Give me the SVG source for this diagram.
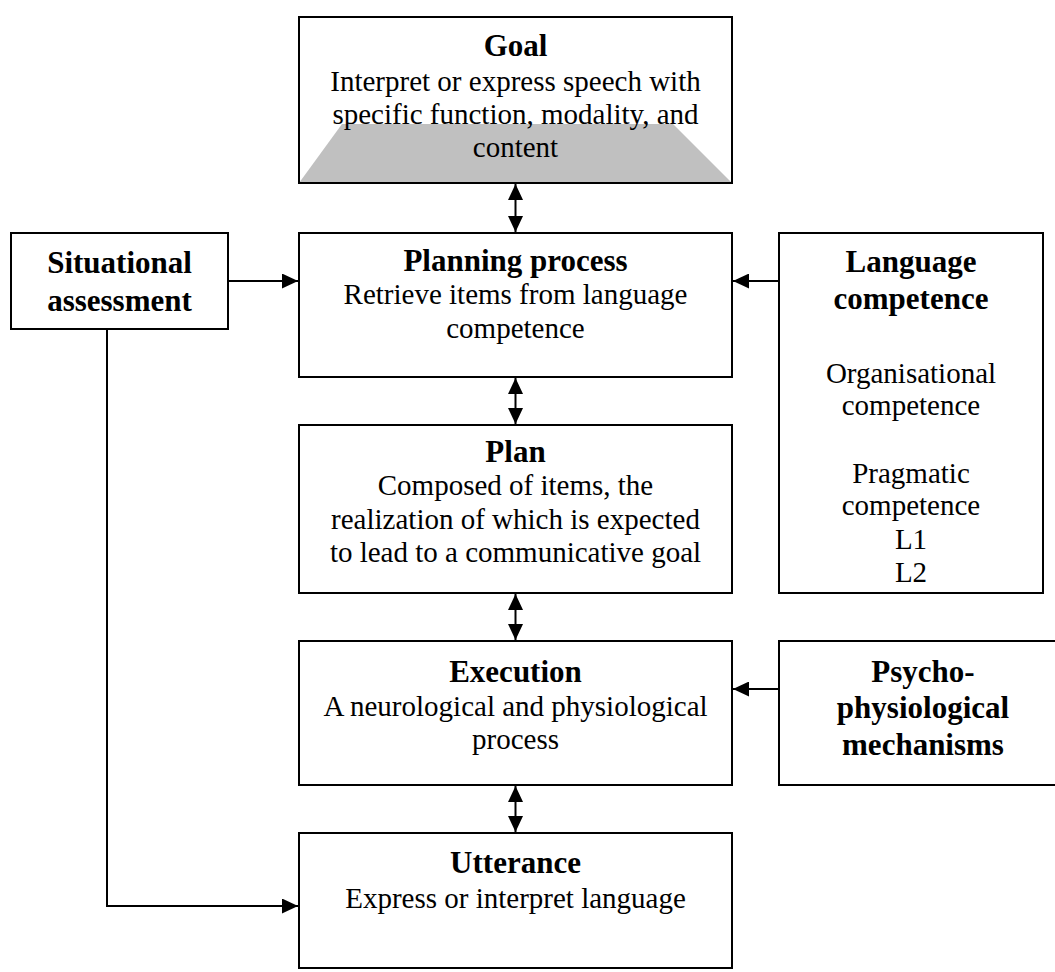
<svg xmlns="http://www.w3.org/2000/svg" width="1055" height="972" viewBox="0 0 1055 972">
  <style>
    .box { fill: #ffffff; stroke: #000000; stroke-width: 2; }
    .title { font-family: "Liberation Serif", "Times New Roman", serif; font-weight: bold; font-size: 31px; fill: #000; text-anchor: middle; }
    .body { font-family: "Liberation Serif", "Times New Roman", serif; font-size: 29px; fill: #000; text-anchor: middle; }
    .link { fill: none; stroke: #000000; stroke-width: 2; }
  </style>
  <defs>
    <marker id="head" viewBox="0 0 16 15" refX="16" refY="7.5" markerWidth="16" markerHeight="15" markerUnits="userSpaceOnUse" orient="auto-start-reverse">
      <path d="M0,0 L16,7.5 L0,15 Z" fill="#000"/>
    </marker>
  </defs>

  <rect width="1055" height="972" fill="#ffffff"/>

  <g id="goal">
    <rect class="box" x="299" y="17" width="433" height="166"/>
    <polygon points="342,124 673,124 732,183 299,183" fill="#c0c0c0"/>
    <rect x="299" y="17" width="433" height="166" fill="none" stroke="#000" stroke-width="2"/>
    <text class="title" x="515.5" y="56">Goal</text>
    <text class="body" x="515.5" y="91">Interpret or express speech with</text>
    <text class="body" x="515.5" y="124">specific function, modality, and</text>
    <text class="body" x="515.5" y="157">content</text>
  </g>

  <g id="situational">
    <rect class="box" x="11" y="233" width="217" height="96"/>
    <text class="title" x="119.5" y="273">Situational</text>
    <text class="title" x="119.5" y="311">assessment</text>
  </g>

  <g id="planning">
    <rect class="box" x="299" y="233" width="433" height="144"/>
    <text class="title" x="515.5" y="271">Planning process</text>
    <text class="body" x="515.5" y="304">Retrieve items from language</text>
    <text class="body" x="515.5" y="338">competence</text>
  </g>

  <g id="language">
    <rect class="box" x="779" y="233" width="264" height="360"/>
    <text class="title" x="911" y="272">Language</text>
    <text class="title" x="911" y="309">competence</text>
    <text class="body" x="911" y="383">Organisational</text>
    <text class="body" x="911" y="415">competence</text>
    <text class="body" x="911" y="483">Pragmatic</text>
    <text class="body" x="911" y="515">competence</text>
    <text class="body" x="911" y="549">L1</text>
    <text class="body" x="911" y="582">L2</text>
  </g>

  <g id="plan">
    <rect class="box" x="299" y="425" width="433" height="168"/>
    <text class="title" x="515.5" y="462">Plan</text>
    <text class="body" x="515.5" y="495">Composed of items, the</text>
    <text class="body" x="515.5" y="529">realization of which is expected</text>
    <text class="body" x="515.5" y="562">to lead to a communicative goal</text>
  </g>

  <g id="execution">
    <rect class="box" x="299" y="641" width="433" height="144"/>
    <text class="title" x="515.5" y="682">Execution</text>
    <text class="body" x="515.5" y="716">A neurological and physiological</text>
    <text class="body" x="515.5" y="749">process</text>
  </g>

  <g id="psycho">
    <rect class="box" x="779" y="641" width="290" height="144"/>
    <text class="title" x="923" y="682">Psycho-</text>
    <text class="title" x="923" y="718">physiological</text>
    <text class="title" x="923" y="755">mechanisms</text>
  </g>

  <g id="utterance">
    <rect class="box" x="299" y="833" width="433" height="135"/>
    <text class="title" x="515.5" y="873">Utterance</text>
    <text class="body" x="515.5" y="908">Express or interpret language</text>
  </g>

  <g id="connectors">
    <line class="link" x1="515.5" y1="184" x2="515.5" y2="232" marker-start="url(#head)" marker-end="url(#head)"/>
    <line class="link" x1="515.5" y1="378" x2="515.5" y2="424" marker-start="url(#head)" marker-end="url(#head)"/>
    <line class="link" x1="515.5" y1="594" x2="515.5" y2="640" marker-start="url(#head)" marker-end="url(#head)"/>
    <line class="link" x1="515.5" y1="786" x2="515.5" y2="832" marker-start="url(#head)" marker-end="url(#head)"/>
    <line class="link" x1="228" y1="281" x2="298" y2="281" marker-end="url(#head)"/>
    <line class="link" x1="779" y1="281" x2="733" y2="281" marker-end="url(#head)"/>
    <line class="link" x1="779" y1="689" x2="733" y2="689" marker-end="url(#head)"/>
    <polyline class="link" points="107,329 107,906 298,906" marker-end="url(#head)"/>
  </g>
</svg>
